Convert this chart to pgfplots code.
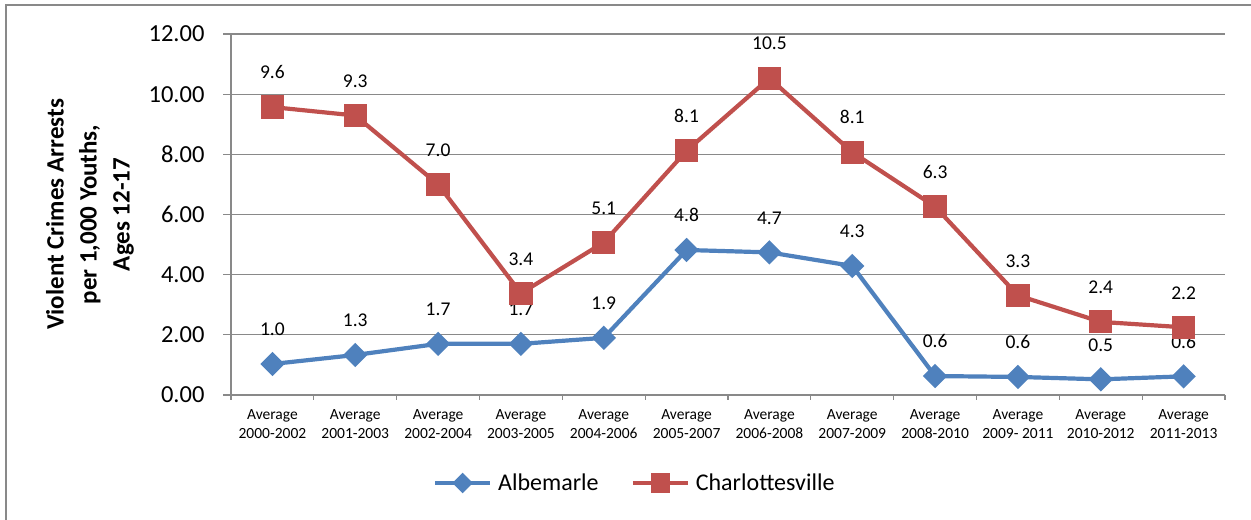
\documentclass[border=0pt]{standalone}
\usepackage{pgfplots}
\pgfplotsset{compat=1.18}
\usepackage{pgfplotstable}
\usepackage{fontspec}
\setmainfont{Carlito}

\definecolor{albblue}{HTML}{4F81BD}
\definecolor{chared}{HTML}{C0504D}
\definecolor{gridgray}{HTML}{898989}

% x = category index, y = value, label = printed value
\pgfplotstableread{
x y label
0 1.03 1.0
1 1.33 1.3
2 1.70 1.7
3 1.70 1.7
4 1.90 1.9
5 4.82 4.8
6 4.74 4.7
7 4.29 4.3
8 0.63 0.6
9 0.60 0.6
10 0.52 0.5
11 0.62 0.6
}\albemarle

\pgfplotstableread{
x y label
0 9.57 9.6
1 9.29 9.3
2 7.00 7.0
3 3.38 3.4
4 5.07 5.1
5 8.12 8.1
6 10.53 10.5
7 8.07 8.1
8 6.26 6.3
9 3.31 3.3
10 2.43 2.4
11 2.25 2.2
}\charlottesville

\begin{document}
\begin{tikzpicture}[x=1bp,y=1bp]
\useasboundingbox (0,0) rectangle (1251,520);
\draw[gridgray, line width=1.5bp] (6,0) -- (6,515) -- (1251,515);
\begin{axis}[
  at={(231bp,125bp)}, anchor=south west,
  scale only axis,
  width=994bp, height=361bp,
  xmin=-0.5, xmax=11.5,
  ymin=0, ymax=12,
  axis x line=bottom, axis y line=left,
  axis line style={-, gridgray, line width=1.2bp},
  xtick={0,...,11},
  xticklabels={{Average\\2000-2002},{Average\\2001-2003},{Average\\2002-2004},{Average\\2003-2005},{Average\\2004-2006},{Average\\2005-2007},{Average\\2006-2008},{Average\\2007-2009},{Average\\2008-2010},{Average\\2009- 2011},{Average\\2010-2012},{Average\\2011-2013}},
  xticklabel style={align=center, font=\fontsize{15.5bp}{19bp}\selectfont, yshift=-3bp},
  major x tick style={draw=none},
  minor xtick={-0.5,0.5,...,11.5},
  minor x tick style={gridgray, line width=1.2bp},
  ytick={0,2,...,12},
  yticklabel style={font=\fontsize{24.5bp}{28bp}\selectfont, xshift=-15bp},
  y tick style={gridgray, line width=1.2bp},
  tick align=outside,
  major tick length=8bp, minor tick length=5bp,
  /pgf/number format/.cd, fixed, fixed zerofill, precision=2, assume math mode=true, /pgfplots/.cd,
  ymajorgrids,
  grid style={gridgray, line width=1.2bp},
  ylabel={Violent Crimes Arrests\\per 1,000 Youths,\\Ages 12-17},
  ylabel style={at={(axis description cs:-0.1419,0.5)}, anchor=center, rotate=0, align=center,
    font=\bfseries\fontsize{25bp}{33bp}\selectfont},
  point meta=explicit symbolic,
  nodes near coords,
  every node near coord/.append style={font=\fontsize{19.5bp}{22bp}\selectfont, text=black, inner sep=0pt, yshift=26bp},
  legend columns=2,
  legend style={draw=none, fill=none, at={(axis description cs:0.4062,-0.2438)}, anchor=center,
    font=\fontsize{24bp}{28bp}\selectfont,
    /tikz/every odd column/.append style={column sep=4bp},
    /tikz/every even column/.append style={column sep=30bp}},
  legend image code/.code={
    \draw[#1, mark=none] (0bp,0bp) -- (55bp,0bp);
    \draw[#1, only marks, /tikz/every mark/.append style={scale=0.8}] plot coordinates {(27.5bp,0bp)};
  },
  legend cell align=left,
  clip=false,
]
\addplot[albblue, line width=4.2bp, mark=square*, mark size=6.5bp, mark options={rotate=45, solid}]
  table[x=x, y=y, meta=label] {\albemarle};
\addlegendentry{Albemarle}
\addplot[chared, line width=4.2bp, mark=square*, mark size=9.5bp, mark options={solid}]
  table[x=x, y=y, meta=label] {\charlottesville};
\addlegendentry{Charlottesville}
\end{axis}
\end{tikzpicture}
\end{document}
